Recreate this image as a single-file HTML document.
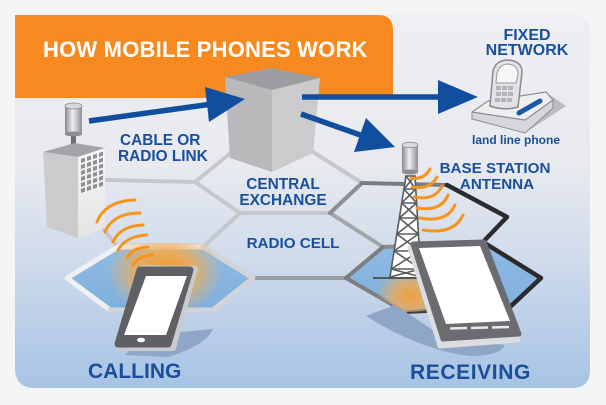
<!DOCTYPE html>
<html><head><meta charset="utf-8"><style>
html,body{margin:0;padding:0;background:#f4f5f7;}
svg{display:block;}
text{font-family:"Liberation Sans",Arial,sans-serif;font-weight:bold;}
</style></head><body>
<svg width="606" height="405" viewBox="0 0 606 405" xmlns="http://www.w3.org/2000/svg">
<defs>
 <linearGradient id="bg" x1="0" y1="15" x2="0" y2="388" gradientUnits="userSpaceOnUse">
  <stop offset="0" stop-color="#eeeff2"/>
  <stop offset="0.4" stop-color="#e8eaef"/>
  <stop offset="0.65" stop-color="#d0dbeb"/>
  <stop offset="1" stop-color="#a7c3e4"/>
 </linearGradient>
 <radialGradient id="g1" cx="0.5" cy="0.5" r="0.5">
  <stop offset="0" stop-color="#f59a25"/>
  <stop offset="0.45" stop-color="#f2a94e" stop-opacity="0.9"/>
  <stop offset="1" stop-color="#f2b060" stop-opacity="0"/>
 </radialGradient>
 <radialGradient id="g2" cx="0.5" cy="0.5" r="0.5">
  <stop offset="0" stop-color="#f0a03a"/>
  <stop offset="0.5" stop-color="#e9ad62" stop-opacity="0.8"/>
  <stop offset="1" stop-color="#e9ad62" stop-opacity="0"/>
 </radialGradient>
 <linearGradient id="hexb" x1="0" y1="0" x2="0" y2="1">
  <stop offset="0" stop-color="#8fbbe3"/>
  <stop offset="1" stop-color="#7fafdc"/>
 </linearGradient>
 <linearGradient id="cyl" x1="0" x2="1" y1="0" y2="0">
  <stop offset="0" stop-color="#88888c"/><stop offset="0.45" stop-color="#f0f0f2"/><stop offset="1" stop-color="#8e8e92"/>
 </linearGradient>
 <linearGradient id="bface" x1="0" x2="0" y1="0" y2="1">
  <stop offset="0" stop-color="#f6f6f7"/><stop offset="1" stop-color="#e4e4e6"/>
 </linearGradient>
 <clipPath id="rcv"><polygon points="346,278 383,247 483,242 541,278 510,307 405,312"/></clipPath>
 <clipPath id="cal"><polygon points="67,278 115,243 206,243 253,278 213,310 110,310"/></clipPath>
</defs>

<!-- card -->
<path d="M15,15 H572 Q590,15 590,33 V370 Q590,388 572,388 H35 Q15,388 15,368 Z" fill="url(#bg)"/>
<path d="M15,15 H378 Q393,15 393,30 V98 H15 Z" fill="#f68a20"/>

<!-- hex fills -->
<polygon points="67,278 118,247 203,247 253,278 213,310 110,310" fill="url(#hexb)"/>
<polygon points="346,278 383,247 483,242 541,278 510,307 405,312" fill="url(#hexb)"/>

<!-- hex lines -->
<g fill="none" stroke-linecap="round" stroke-linejoin="round">
 <g stroke="#c6c7cb" stroke-width="4">
  <polyline points="107,180 195,182 232,152"/>
  <polyline points="195,182 240,213 330,213"/>
  <polyline points="313,152 362,183"/>
  <polyline points="240,213 203,247"/>
  <polyline points="100,225 118,247"/>
 </g>
 <polyline points="330,213 383,247" stroke="#a4a5a9" stroke-width="4"/>
 <polyline points="330,213 362,183" stroke="#8d8e92" stroke-width="4"/>
 <polyline points="253,278 346,278" stroke="#9a9b9f" stroke-width="4"/>
 <polyline points="362,183 447,185" stroke="#7b7c80" stroke-width="4"/>
 <polyline points="383,247 483,242" stroke="#8a8b8f" stroke-width="4"/>
 <polyline points="447,185 507,217 483,242" stroke="#2c2c2f" stroke-width="4.5"/>
 <polyline points="483,242 541,278 510,307" stroke="#2a2a2d" stroke-width="4.5"/>
 <polyline points="510,307 405,312" stroke="#3c3c40" stroke-width="4"/>
 <polyline points="383,247 346,278 405,312" stroke="#7d7e82" stroke-width="4"/>
 <!-- calling hex border -->
 <polyline points="203,247 118,247 67,278 110,310" stroke="#eef0f4" stroke-width="5"/>
 <polyline points="110,310 213,310 253,278 203,247" stroke="#d2d4d8" stroke-width="5"/>
</g>

<!-- glows -->
<g clip-path="url(#cal)"><ellipse cx="165" cy="272" rx="58" ry="44" fill="url(#g1)"/></g>
<g clip-path="url(#rcv)"><ellipse cx="410" cy="296" rx="34" ry="28" fill="url(#g2)"/></g>

<!-- building -->
<rect x="71" y="128" width="5" height="26" fill="#6d6d71"/>
<rect x="65" y="106" width="17" height="28" fill="url(#cyl)"/>
<ellipse cx="73.5" cy="106" rx="8.5" ry="3" fill="#d9d9db" stroke="#8e8e92" stroke-width="0.8"/>
<ellipse cx="73.5" cy="134" rx="8.5" ry="2.5" fill="#8e8e92"/>
<polygon points="43,152 75,143 105,148 78,157" fill="#a4a4a8"/>
<polygon points="43,152 78,157 78,238 47,227" fill="#cbcbce"/>
<polygon points="78,157 105,148 105,228 78,238" fill="url(#bface)"/>
<g transform="translate(78,157) skewY(-18.4)" fill="#8e8f93">
 <rect x="3" y="3" width="4" height="4"/><rect x="9" y="3" width="4" height="4"/><rect x="15" y="3" width="4" height="4"/><rect x="21" y="3" width="4" height="4"/>
 <rect x="3" y="9" width="4" height="4"/><rect x="9" y="9" width="4" height="4"/><rect x="15" y="9" width="4" height="4"/><rect x="21" y="9" width="4" height="4"/>
 <rect x="3" y="15" width="4" height="4"/><rect x="9" y="15" width="4" height="4"/><rect x="15" y="15" width="4" height="4"/><rect x="21" y="15" width="4" height="4"/>
 <rect x="3" y="21" width="4" height="4"/><rect x="9" y="21" width="4" height="4"/><rect x="15" y="21" width="4" height="4"/><rect x="21" y="21" width="4" height="4"/>
 <rect x="3" y="27" width="4" height="4"/><rect x="9" y="27" width="4" height="4"/><rect x="15" y="27" width="4" height="4"/><rect x="21" y="27" width="4" height="4"/>
 <rect x="3" y="33" width="4" height="4"/><rect x="9" y="33" width="4" height="4"/><rect x="15" y="33" width="4" height="4"/><rect x="21" y="33" width="4" height="4"/>
</g>

<!-- cube -->
<polygon points="225,77 272,68 320,78 272,90" fill="#9d9da1"/>
<polygon points="225,77 272,90 272,172 230,158" fill="#b9b9bc"/>
<polygon points="272,90 320,78 313,153 272,172" fill="#cbcbce"/>

<!-- tower -->
<polygon points="406,176 415,176 421,277 390,277" fill="#ffffff"/>
<g stroke="#5a5b5f" stroke-width="1.6" fill="none" stroke-linecap="round">
 <polyline points="406,176 390,277"/>
 <polyline points="415,176 421,277"/>
 <path d="M406,176 H415 M403.9,189 H415.8 M401.7,203 H416.6 M399.3,218 H417.5 M396.8,234 H418.4 M394.1,251 H419.5 M391.3,269 H420.5"/>
 <path d="M406,176 L415.8,189 M415,176 L403.9,189 M403.9,189 L416.6,203 M415.8,189 L401.7,203 M401.7,203 L417.5,218 M416.6,203 L399.3,218 M399.3,218 L418.4,234 M417.5,218 L396.8,234 M396.8,234 L419.5,251 M418.4,234 L394.1,251 M394.1,251 L420.5,269 M419.5,251 L391.3,269 M391.3,269 L421,277 M420.5,269 L390,277"/>
</g>
<line x1="373" y1="278" x2="417" y2="278" stroke="#55565a" stroke-width="2"/>
<rect x="402" y="145" width="16" height="27" fill="url(#cyl)"/>
<ellipse cx="410" cy="145" rx="8" ry="2.8" fill="#d9d9db" stroke="#8e8e92" stroke-width="0.8"/>
<ellipse cx="410" cy="172" rx="8" ry="2.5" fill="#8e8e92"/>

<!-- arrows -->
<g fill="#114f9e" stroke="#114f9e">
 <line x1="89" y1="121" x2="212" y2="104" stroke-width="5.5"/>
 <polygon points="205,87 245,99 209,122" stroke="none"/>
 <line x1="302" y1="97" x2="445" y2="97" stroke-width="5.5"/>
 <polygon points="438,80 478,97 438,114" stroke="none"/>
 <line x1="301" y1="114" x2="366" y2="137" stroke-width="5.5"/>
 <polygon points="366,118 395,147 354,152" stroke="none"/>
</g>

<!-- landline phone -->
<polygon points="546,92 566,106 528,131 520,125" fill="#bcbdc0"/>
<polygon points="472,112 472,119 525,133 553,108 553,100 525,120" fill="#d6d7da" stroke="#8e8f93" stroke-width="1" stroke-linejoin="round"/>
<polygon points="472,112 488,101 546,92 553,100 525,120" fill="#eeeff1" stroke="#8e8f93" stroke-width="1.2" stroke-linejoin="round"/>
<line x1="519" y1="113" x2="540" y2="101" stroke="#1d58a6" stroke-width="5" stroke-linecap="round"/>
<path d="M493,71 Q496,60 508,60 Q522,61 522,72 L518,107 Q504,111 490,106 Z" fill="#e2e3e5" stroke="#8a8b8f" stroke-width="1.5"/>
<path d="M497,73 Q500,64 508,64 Q518,65 518,74 L516,83 L496,83 Z" fill="#f6f6f7" stroke="#9a9b9f" stroke-width="1"/>
<g fill="#b4b5b8">
 <rect x="496" y="86" width="5" height="4"/><rect x="502" y="86" width="5" height="4"/><rect x="508" y="86" width="5" height="4"/>
 <rect x="496" y="92" width="5" height="4"/><rect x="502" y="92" width="5" height="4"/><rect x="508" y="92" width="5" height="4"/>
 <rect x="495" y="98" width="5" height="4"/><rect x="501" y="98" width="5" height="4"/><rect x="507" y="98" width="5" height="4"/>
</g>

<!-- shadows -->
<path d="M125,355 Q132,344 170,333 L213,329 Q205,346 168,357 Z" fill="#8fa6c7"/>
<path d="M366,316 L395,305 L445,338 L505,345 Q500,356 470,356 Q420,350 366,316 Z" fill="#8fa6c7"/>

<!-- calling phone -->
<polygon points="143,268 195,269 173,348 120,348" fill="#c9cacd" stroke="#c9cacd" stroke-width="6" stroke-linejoin="round"/>
<polygon points="140,270 190,270 168,344 118,344" fill="#5f6064" stroke="#5f6064" stroke-width="7" stroke-linejoin="round"/>
<polygon points="146,276 187,276 166,335 124,335" fill="#ffffff"/>
<ellipse cx="141" cy="340" rx="4" ry="2.3" fill="#ffffff"/>

<!-- receiving phone -->
<polygon points="410,248 482,246 518,340 440,346" fill="#dcdde0" stroke="#dcdde0" stroke-width="5" stroke-linejoin="round"/>
<polygon points="413,244 484,242 519,334 443,339" fill="#6b6c70" stroke="#6b6c70" stroke-width="5" stroke-linejoin="round"/>
<polygon points="419,248 480,246 510,321 446,324" fill="#ffffff"/>
<g stroke="#e8e8ea" stroke-width="2.5">
 <line x1="450" y1="328.5" x2="467" y2="328"/>
 <line x1="471" y1="328" x2="488" y2="327.5"/>
 <line x1="492" y1="327.5" x2="509" y2="327"/>
</g>

<!-- waves -->
<g fill="none" stroke="#f7941d" stroke-width="3" stroke-linecap="round">
 <path d="M97,222 Q105,201 135,200"/>
 <path d="M105,232 Q113,213 140,213"/>
 <path d="M113,242 Q120,226 143,225"/>
 <path d="M118,250 Q126,236 147,235"/>
 <path d="M127,258 Q132,248 148,247"/>
 <path d="M133,265 Q138,256 153,255"/>
 <path d="M411,178 Q424,180 430,169"/>
 <path d="M412,187 Q430,190 437,177"/>
 <path d="M414,197 Q435,201 442,186"/>
 <path d="M417,208 Q441,212 448,195"/>
 <path d="M420,218 Q447,223 455,205"/>
 <path d="M423,230 Q454,235 463,215"/>
</g>

<!-- text -->
<text x="43" y="57" font-size="22" fill="#ffffff" letter-spacing="0.2">HOW MOBILE PHONES WORK</text>
<g fill="#1a4f9b">
 <text x="527" y="40" font-size="16" text-anchor="middle">FIXED</text>
 <text x="527" y="55" font-size="16" text-anchor="middle">NETWORK</text>
 <text x="516" y="144" font-size="12" text-anchor="middle">land line phone</text>
 <text x="120" y="145" font-size="15.4">CABLE OR</text>
 <text x="118" y="161" font-size="15.4">RADIO LINK</text>
 <text x="283" y="189" font-size="15.4" text-anchor="middle">CENTRAL</text>
 <text x="283" y="205" font-size="15.4" text-anchor="middle">EXCHANGE</text>
 <text x="293" y="248" font-size="15.2" text-anchor="middle">RADIO CELL</text>
 <text x="495" y="173" font-size="15.2" text-anchor="middle">BASE STATION</text>
 <text x="497" y="189" font-size="15.2" text-anchor="middle">ANTENNA</text>
 <text x="88" y="378" font-size="21">CALLING</text>
 <text x="410" y="379" font-size="21" letter-spacing="0.6">RECEIVING</text>
</g>
</svg>
</body></html>
